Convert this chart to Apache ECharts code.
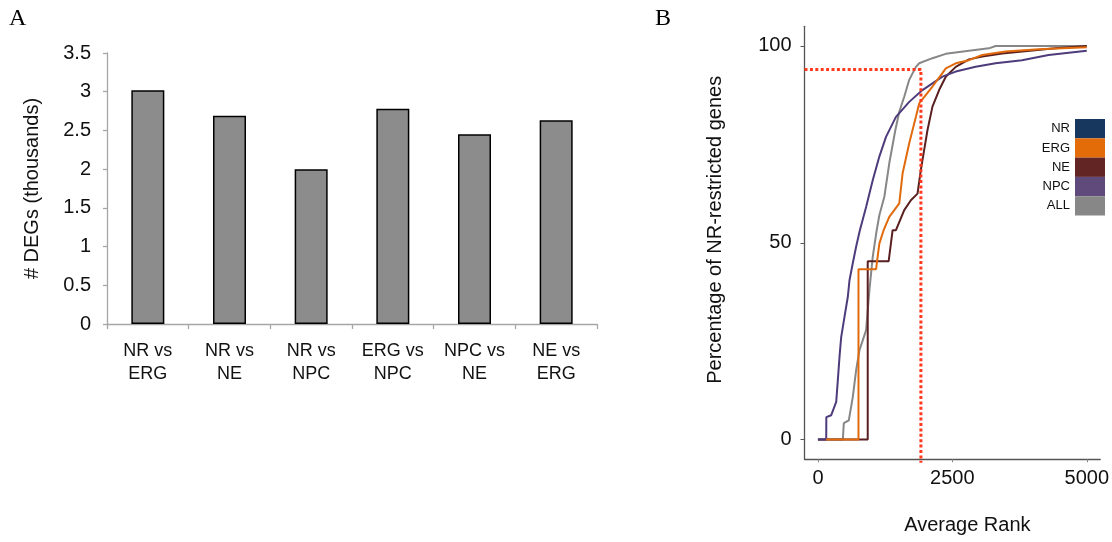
<!DOCTYPE html>
<html>
<head>
<meta charset="utf-8">
<script src="https://cdn.jsdelivr.net/npm/echarts@6/dist/echarts.min.js"></script>
<style>
  html, body { margin: 0; padding: 0; background: #fff; }
  #chart { width: 1112px; height: 542px; }
</style>
</head>
<body>
<div id="chart"></div>
<script>
// ---------- Panel A data ----------
const barCategories = ['NR vs\nERG', 'NR vs\nNE', 'NR vs\nNPC', 'ERG vs\nNPC', 'NPC vs\nNE', 'NE vs\nERG'];
const degThousands = [3.02, 2.69, 2.0, 2.78, 2.45, 2.63];

// ---------- Panel B data: [average rank, percentage] ----------
const curveNPC = [[0,0],[154,0],[156,5.7],[247,6.2],[340,9.6],[370,15.1],[401,21],[433,26.1],[494,31.2],[556,36.3],[587,40.5],[648,44.8],[710,49],[780,53.2],[896,59.1],[1019,65.9],[1142,71.9],[1266,76.9],[1451,82],[1698,85.8],[1944,88.8],[2315,92.2],[2563,93.5],[2933,94.7],[3304,95.6],[3796,96.4],[4290,97.7],[5000,98.8]];
const curveALL = [[0,0],[463,0],[481,4.2],[574,4.9],[648,10.8],[710,17.6],[772,22.7],[833,25.2],[896,27.8],[957,37.9],[1019,46.4],[1093,53.2],[1142,57],[1235,61.7],[1327,70.2],[1439,78.6],[1513,83.3],[1605,87.1],[1698,91.4],[1822,94.7],[1883,95.6],[2130,96.9],[2378,98],[2809,98.8],[3180,99.4],[3304,100],[5000,100]];
const curveERG = [[150,0],[754,0],[754,43.3],[1081,43.3],[1142,49.8],[1222,53.2],[1327,56.6],[1513,60],[1574,67.6],[1698,75.3],[1822,82],[1883,85.4],[2130,89.7],[2315,93.1],[2378,94.3],[2563,95.6],[2809,96.4],[3056,97.7],[3489,98.6],[4105,99.2],[5000,99.7]];
const curveNE = [[0,0],[926,0],[926,45.3],[1315,45.3],[1389,53.2],[1451,53.2],[1605,58.3],[1729,60.8],[1852,62.5],[1914,68.5],[1976,73.6],[2037,78.6],[2130,84.6],[2254,88.8],[2378,92.2],[2563,94.7],[2809,96.6],[3056,97.3],[3426,98.1],[4414,99.4],[5000,100]];
const curveNR = [];
const refRank = 1915;
const refPercent = 94;
const legendNames = ['NR', 'ERG', 'NE', 'NPC', 'ALL'];
const xTicksB = [0, 2500, 5000];
const yTicksB = [0, 50, 100];

const FONT = '"Liberation Sans", Arial, Helvetica, sans-serif';
const legendColors = { NR: '#17375e', ERG: '#e36c09', NE: '#632523', NPC: '#604a7b', ALL: '#878787' };
const lineColors = { NR: '#17375e', ERG: '#e06a0c', NE: '#5a1f1f', NPC: '#4e3b7b', ALL: '#878787' };

function curveSeries(name, data) {
  return {
    name: name, type: 'line', xAxisIndex: 1, yAxisIndex: 1,
    data: data, showSymbol: false, symbol: 'none', smooth: false,
    itemStyle: { color: legendColors[name] },
    lineStyle: { color: lineColors[name], width: 2 },
    emphasis: { disabled: true }
  };
}

const plain = v => String(v);

const chart = echarts.init(document.getElementById('chart'), null, { renderer: 'canvas' });
chart.setOption({
  animation: false,
  backgroundColor: '#ffffff',
  textStyle: { fontFamily: FONT },
  graphic: [
    { type: 'text', left: 9, top: 7, style: { text: 'A', font: '24px "Liberation Serif", "Times New Roman", serif', fill: '#000' } },
    { type: 'text', left: 655, top: 7, style: { text: 'B', font: '24px "Liberation Serif", "Times New Roman", serif', fill: '#000' } }
  ],
  grid: [
    { left: 107, top: 53, width: 490, height: 271 },
    { left: 804.5, top: 26.3, width: 297.3, height: 433 }
  ],
  legend: {
    orient: 'vertical', right: 7, top: 119, padding: 0,
    itemWidth: 30, itemHeight: 19.3, itemGap: 0,
    align: 'right', icon: 'rect', selectedMode: false,
    textStyle: { fontFamily: FONT, fontSize: 13, color: '#111' },
    data: legendNames.map(n => ({ name: n, icon: 'rect', itemStyle: { color: legendColors[n], borderWidth: 0 } }))
  },
  xAxis: [
    {
      type: 'category', gridIndex: 0, data: barCategories,
      axisLine: { lineStyle: { color: '#a6a6a6', width: 1.3 } },
      axisTick: { show: true, length: 5, lineStyle: { color: '#a6a6a6', width: 1.3 } },
      axisLabel: { fontSize: 18, lineHeight: 23, color: '#111', margin: 16, interval: 0, fontFamily: FONT }
    },
    {
      type: 'value', gridIndex: 1, min: -250, max: 5250,
      name: 'Average Rank', nameLocation: 'middle', nameGap: 56,
      nameTextStyle: { fontSize: 20, color: '#111', fontFamily: FONT, padding: [0, 0, 0, 30] },
      axisLine: { show: true, onZero: false, lineStyle: { color: '#555', width: 1.3 } },
      axisTick: { show: true, length: 3, customValues: xTicksB, lineStyle: { color: '#888' } },
      axisLabel: { fontSize: 20, color: '#111', margin: 9, customValues: xTicksB, formatter: plain, fontFamily: FONT },
      splitLine: { show: false }
    }
  ],
  yAxis: [
    {
      type: 'value', gridIndex: 0, min: 0, max: 3.5, interval: 0.5,
      name: '# DEGs (thousands)', nameLocation: 'middle', nameGap: 65,
      nameTextStyle: { fontSize: 20, color: '#111', fontFamily: FONT },
      axisLine: { show: true, lineStyle: { color: '#a6a6a6', width: 1.3 } },
      axisTick: { show: true, length: 4, lineStyle: { color: '#a6a6a6', width: 1.3 } },
      axisLabel: { fontSize: 20, color: '#111', margin: 16, fontFamily: FONT },
      splitLine: { show: false }
    },
    {
      type: 'value', gridIndex: 1, min: -5, max: 105,
      name: 'Percentage of NR-restricted genes', nameLocation: 'middle', nameGap: 79,
      nameTextStyle: { fontSize: 20, color: '#111', fontFamily: FONT, padding: [0, 0, 0, 26] },
      axisLine: { show: true, onZero: false, lineStyle: { color: '#555', width: 1.3 } },
      axisTick: { show: true, length: 4, customValues: yTicksB, lineStyle: { color: '#555' } },
      axisLabel: { fontSize: 20, color: '#111', margin: 13, customValues: yTicksB, formatter: plain, fontFamily: FONT },
      splitLine: { show: false }
    }
  ],
  series: [
    {
      name: 'DEGs', type: 'bar', xAxisIndex: 0, yAxisIndex: 0,
      data: degThousands, barWidth: 33,
      itemStyle: { color: '#8c8c8c', borderColor: '#000', borderWidth: 1.5 },
      emphasis: { disabled: true }
    },
    curveSeries('ALL', curveALL),
    curveSeries('NE', curveNE),
    curveSeries('NPC', curveNPC),
    curveSeries('ERG', curveERG),
    curveSeries('NR', curveNR),
    {
      name: 'ref', type: 'line', xAxisIndex: 1, yAxisIndex: 1,
      data: [[-250, refPercent], [refRank, refPercent], [refRank, -5.9]],
      showSymbol: false, symbol: 'none', clip: false,
      lineStyle: { color: '#ff3a1f', width: 3, type: [3, 2.4] },
      emphasis: { disabled: true }
    }
  ]
});
</script>
</body>
</html>
